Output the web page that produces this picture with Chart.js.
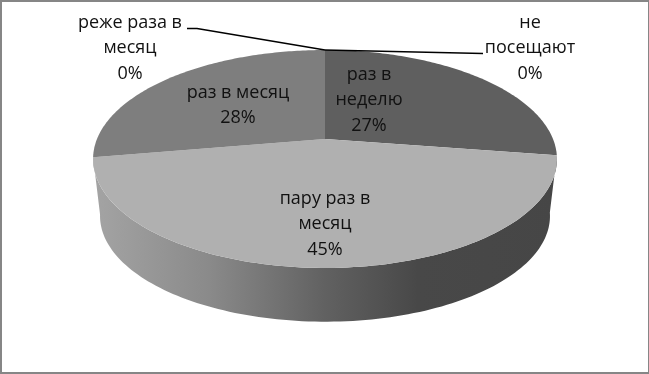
<!DOCTYPE html>
<html lang="ru">

<head>
    <meta charset="UTF-8">
    <title>Посещаемость</title>
    <script src="https://cdn.jsdelivr.net/npm/chart.js"></script>
    <style>
        html, body { margin: 0; padding: 0; background: #fff; overflow: hidden; }
        #box { position: relative; width: 649px; height: 374px; }
        #myChart { position: absolute; left: 0; top: 0; }
        #frame {
            position: absolute; left: 0; top: 0; right: 0; bottom: 0;
            border: solid #868686; border-width: 2px 1px 2px 2px; pointer-events: none;
        }
    </style>
</head>

<body>
    <div id="box">
        <canvas id="myChart" width="649" height="374"></canvas>
        <div id="frame"></div>
    </div>

    <script>
        // данные
        const categories = [['не', 'посещают'], ['раз в', 'неделю'], ['пару раз в', 'месяц'], ['раз в месяц'], ['реже раза в', 'месяц']];
        const values = [0, 27.4, 44.9, 27.7, 0];
        const colors = ['#5f5f5f', '#5f5f5f', '#b0b0b0', '#7e7e7e', '#7e7e7e'];

        // где стоят подписи: центр по x и y первой строки
        const labelPlaces = [[530, 23], [369, 75], [325, 199], [238, 93], [130, 23]];
        const lineStep = 25.3;

        // перспектива верхней грани
        const cx = 325, apexY = 139, spreadX = 228, spreadY = 105.3, persp = 0.1835;
        // нижняя кромка стенки
        const wallShift = 57, wallScale = 0.97, midY = 159;

        function project(t) {
            const u = Math.cos(t), v = Math.sin(t);
            const d = 1 - persp * v;
            return [cx + spreadX * u / d, apexY + spreadY * v / d];
        }

        function arcPoints(el) {
            const pts = [];
            const n = 120;
            for (let i = 0; i <= n; i++) {
                pts.push(project(el.startAngle + (el.endAngle - el.startAngle) * i / n));
            }
            return pts;
        }

        const pie3d = {
            id: 'pie3d',
            beforeDatasetsDraw(chart) {
                const ctx = chart.ctx;
                const arcs = chart.getDatasetMeta(0).data;

                // стенка под самым большим сектором
                const front = arcs[2];
                const top = arcPoints(front);
                const wall = ctx.createLinearGradient(93, 0, 557, 0);
                wall.addColorStop(0, '#a4a4a4');
                wall.addColorStop(0.25, '#8a8a8a');
                wall.addColorStop(0.5, '#616161');
                wall.addColorStop(0.7, '#484848');
                wall.addColorStop(1, '#464646');
                ctx.beginPath();
                top.forEach((p, i) => i ? ctx.lineTo(p[0], p[1]) : ctx.moveTo(p[0], p[1]));
                top.slice().reverse().forEach(p => {
                    ctx.lineTo(cx + (p[0] - cx) * wallScale, midY + wallShift + (p[1] - midY) * wallScale);
                });
                ctx.closePath();
                ctx.fillStyle = wall;
                ctx.fill();

                // верхняя грань
                arcs.forEach(el => {
                    if (el.circumference === 0) return;
                    ctx.beginPath();
                    ctx.moveTo(cx, apexY);
                    arcPoints(el).forEach(p => ctx.lineTo(p[0], p[1]));
                    ctx.closePath();
                    ctx.fillStyle = el.options.backgroundColor;
                    ctx.fill();
                });
                return false;
            },
            afterDraw(chart) {
                const ctx = chart.ctx;
                const arcs = chart.getDatasetMeta(0).data;

                // выноски к нулевым секторам
                ctx.strokeStyle = '#000';
                ctx.lineWidth = 1.5;
                const right = project(arcs[0].startAngle);
                ctx.beginPath();
                ctx.moveTo(right[0], right[1]);
                ctx.lineTo(483, 53.5);
                ctx.stroke();
                const left = project(arcs[4].endAngle);
                ctx.beginPath();
                ctx.moveTo(left[0], left[1]);
                ctx.lineTo(197, 28.5);
                ctx.lineTo(187, 28.5);
                ctx.stroke();

                // подписи
                ctx.fillStyle = '#111';
                ctx.font = '18px "Open Sans"';
                ctx.textAlign = 'center';
                ctx.textBaseline = 'middle';
                categories.forEach((lines, i) => {
                    const [x, y] = labelPlaces[i];
                    const rows = lines.concat(Math.round(values[i]) + '%');
                    rows.forEach((row, k) => ctx.fillText(row, x, y + k * lineStep));
                });
            }
        };

        new Chart(document.getElementById('myChart'), {
            type: 'pie',
            data: {
                labels: categories,
                datasets: [{ data: values, backgroundColor: colors, borderWidth: 0 }]
            },
            options: {
                responsive: false,
                animation: false,
                plugins: { legend: { display: false }, tooltip: { enabled: false } }
            },
            plugins: [pie3d]
        });
    </script>
</body>

</html>
